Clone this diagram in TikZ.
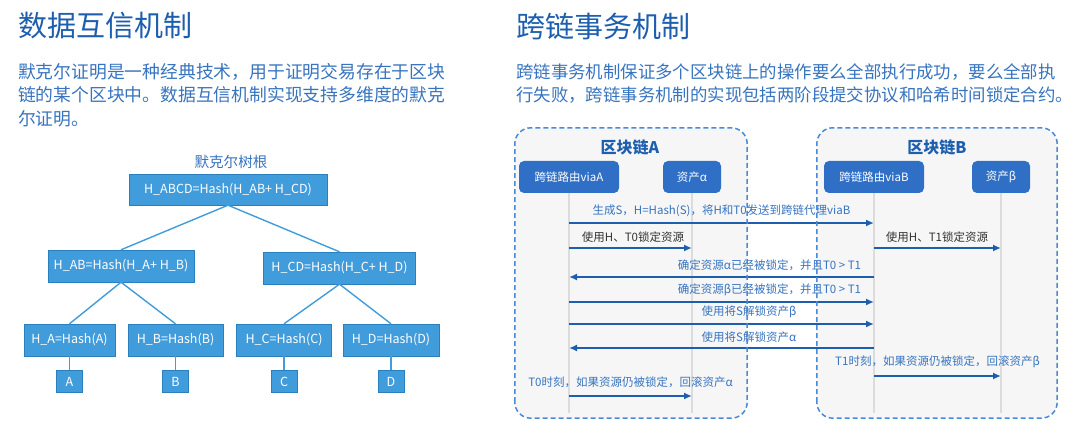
\documentclass[tikz,border=0pt]{standalone}
\usepackage{fontspec}
\setmainfont{Noto Sans CJK SC}
\usepackage{tikz}
\usetikzlibrary{arrows.meta}

\definecolor{titleblue}{HTML}{1D5FAE}
\definecolor{textblue}{HTML}{3774C0}
\definecolor{treefill}{HTML}{419CDB}
\definecolor{treeline}{HTML}{2C7FBE}
\definecolor{partfill}{HTML}{2F6FC5}
\definecolor{msgblue}{HTML}{1E5EAE}
\definecolor{dashblue}{HTML}{4C8AD6}
\definecolor{chainbg}{HTML}{F6F6F6}
\definecolor{lifegray}{HTML}{DCDCDC}

\tikzset{
    hashbox/.style={draw=treeline, fill=treefill, text=white, inner sep=0pt, font=\fontsize{12.5}{14}\selectfont},
    treeedge/.style={draw=treefill, line width=1.4pt},
    partbox/.style={fill=partfill, rounded corners=5pt, text=white, inner sep=0pt, minimum height=32pt, font=\fontsize{11.5}{13}\selectfont},
    chainback/.style={fill=chainbg, rounded corners=16pt, inner sep=0pt, minimum height=290pt},
    chainborder/.style={draw=dashblue, dash pattern=on 5pt off 3pt, line width=1.5pt, rounded corners=16pt},
    lifeline/.style={draw=lifegray, line width=2pt},
    msg/.style={draw=msgblue, line width=1.8pt, -{Latex[length=8pt,width=7pt]}},
    msglabel/.style={text=textblue, inner sep=0pt, font=\fontsize{11.5}{13}\selectfont},
}

\begin{document}
\begin{tikzpicture}[x=1pt, y=-1pt]
    \useasboundingbox[fill=white] (0,0) rectangle (1080,441);

    % Titles and texts
    \node[anchor=west, inner sep=0pt, text=titleblue, font=\fontsize{29}{32}\selectfont] (lefttitle) at (18,26) {数据互信机制};
    \node[anchor=north west, inner sep=0pt, align=left, text=textblue, font=\fontsize{17.8}{23.5}\selectfont] (lefttext) at (18,63)
        {默克尔证明是一种经典技术，用于证明交易存在于区块\\链的某个区块中。数据互信机制实现支持多维度的默克\\尔证明。};
    \node[anchor=west, inner sep=0pt, text=titleblue, font=\fontsize{29}{32}\selectfont] (righttitle) at (516,26) {跨链事务机制};
    \node[anchor=north west, inner sep=0pt, align=left, text=textblue, font=\fontsize{17.4}{23.5}\selectfont] (righttext) at (516,63)
        {跨链事务机制保证多个区块链上的操作要么全部执行成功，要么全部执\\行失败，跨链事务机制的实现包括两阶段提交协议和哈希时间锁定合约。};

    % Merkle tree
    \node[text=textblue, inner sep=0pt, font=\fontsize{14.6}{16}\selectfont] (rootlabel) at (231,162) {默克尔树根};
    \node[hashbox, minimum width=198pt, minimum height=31pt] (habcd) at (228,189.5) {H\_ABCD=Hash(H\_AB+ H\_CD)};
    \node[hashbox, minimum width=146pt, minimum height=32pt] (hab) at (121,266) {H\_AB=Hash(H\_A+ H\_B)};
    \node[hashbox, minimum width=152pt, minimum height=32pt] (hcd) at (339.5,268) {H\_CD=Hash(H\_C+ H\_D)};
    \node[hashbox, minimum width=91pt, minimum height=32pt] (ha) at (69.5,340) {H\_A=Hash(A)};
    \node[hashbox, minimum width=95pt, minimum height=32pt] (hb) at (175.5,340) {H\_B=Hash(B)};
    \node[hashbox, minimum width=95pt, minimum height=32pt] (hc) at (284,340) {H\_C=Hash(C)};
    \node[hashbox, minimum width=96pt, minimum height=32pt] (hd) at (391,340) {H\_D=Hash(D)};
    \foreach \leaf/\x/\name in {A/69.5/ha, B/175.5/hb, C/284/hc, D/391/hd} {
        \node[hashbox, minimum width=26pt, minimum height=22pt] (data\leaf) at (\x,381.5) {\leaf};
        \draw[treeedge] (\name.south) -- (data\leaf.north);
    }
    \draw[treeedge] (habcd.south) -- (hab.north);
    \draw[treeedge] (habcd.south) -- (hcd.north);
    \draw[treeedge] (hab.south) -- (ha.north);
    \draw[treeedge] (hab.south) -- (hb.north);
    \draw[treeedge] (hcd.south) -- (hc.north);
    \draw[treeedge] (hcd.south) -- (hd.north);

    % Blockchains
    \node[chainback, minimum width=232pt] (chainA) at (631,273) {};
    \node[chainback, minimum width=240pt] (chainB) at (937,273) {};
    \node[text=titleblue, inner sep=0pt, font=\bfseries\fontsize{16}{18}\selectfont] (titleA) at (630,147) {区块链A};
    \node[text=titleblue, inner sep=0pt, font=\bfseries\fontsize{16}{18}\selectfont] (titleB) at (937,147) {区块链B};

    \node[partbox, minimum width=100pt] (ra) at (569,177) {跨链路由viaA};
    \node[partbox, minimum width=58pt] (aa) at (692,177) {资产α};
    \node[partbox, minimum width=100pt] (rb) at (874,177) {跨链路由viaB};
    \node[partbox, minimum width=58pt] (ab) at (1001,177) {资产β};
    \foreach \p in {ra,aa,rb,ab} {
        \draw[lifeline] (\p.south) -- (\p |- 0,413);
    }

    % Messages
    \draw[msg] (ra |- 0,223) -- (rb |- 0,223) node[msglabel, midway, above=5pt] {生成S，H=Hash(S)，将H和T0发送到跨链代理viaB};
    \draw[msg] (ra |- 0,248) -- (aa |- 0,248) node[msglabel, text=black!80, pos=0, anchor=south west, xshift=12pt, yshift=5pt] {使用H、T0锁定资源};
    \draw[msg] (rb |- 0,248) -- (ab |- 0,248) node[msglabel, text=black!80, pos=0, anchor=south west, xshift=11pt, yshift=5pt] {使用H、T1锁定资源};
    \draw[msg] (rb |- 0,277) -- (ra |- 0,277) node[msglabel, pos=0, anchor=south east, xshift=-12pt, yshift=5pt] {确定资源α已经被锁定，并且T0 > T1};
    \draw[msg] (ra |- 0,302) -- (rb |- 0,302) node[msglabel, pos=1, anchor=south east, xshift=-12pt, yshift=5pt] {确定资源β已经被锁定，并且T0 > T1};
    \draw[msg] (ra |- 0,324) -- (rb |- 0,324) node[msglabel, pos=0.59, above=5pt] {使用将S解锁资产β};
    \draw[msg] (rb |- 0,348) -- (ra |- 0,348) node[msglabel, pos=0.41, above=5pt] {使用将S解锁资产α};
    \draw[msg] (rb |- 0,376) -- (ab |- 0,376) node[msglabel, midway, above=7pt] {T1时刻，如果资源仍被锁定，回滚资产β};
    \draw[msg] (ra |- 0,396) -- (aa |- 0,396) node[msglabel, midway, above=7pt] {T0时刻，如果资源仍被锁定，回滚资产α};

    % Dashed borders
    \draw[chainborder] (chainA.south west) rectangle (chainA.north east);
    \draw[chainborder] (chainB.south west) rectangle (chainB.north east);
\end{tikzpicture}
\end{document}
